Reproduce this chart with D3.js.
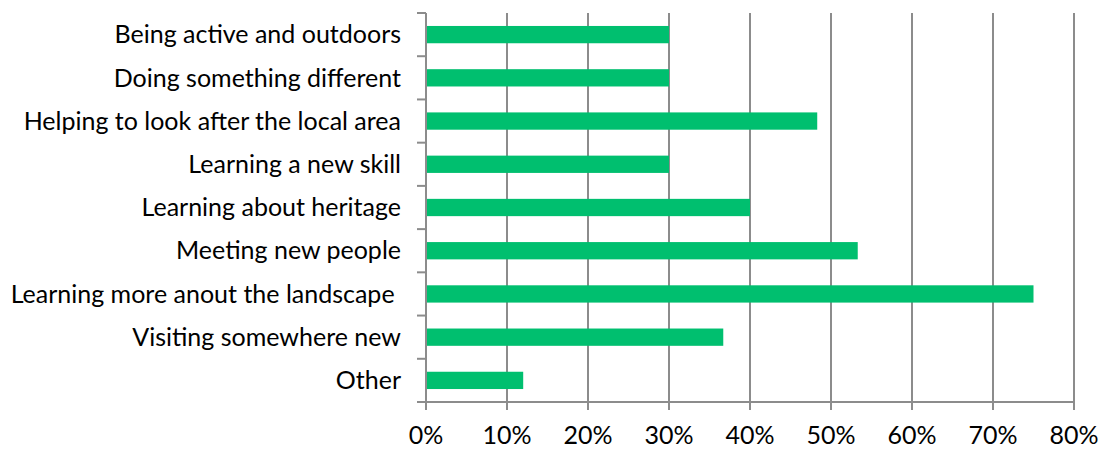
<!DOCTYPE html>
<html><head><meta charset="utf-8">
<script src="https://cdn.jsdelivr.net/npm/d3@7"></script>
<style>body{margin:0;background:#fff}svg{display:block}text{font-family:Lato,"Open Sans",sans-serif}</style>
</head><body><svg id="c" width="1103" height="451"></svg>
<script>
const categories = ["Being active and outdoors","Doing something different","Helping to look after the local area","Learning a new skill","Learning about heritage","Meeting new people","Learning more anout the landscape ","Visiting somewhere new","Other"];
const values = [0.30,0.30,0.483,0.30,0.40,0.533,0.75,0.367,0.12];
const xTicks = [0,0.1,0.2,0.3,0.4,0.5,0.6,0.7,0.8];

const svg = d3.select("#c");
const L=426, R=1074, T=13, B=402;
const x = d3.scaleLinear().domain([0,0.8]).range([L,R]);
const y = d3.scaleBand().domain(categories).range([T,B]).paddingInner(0.6).paddingOuter(0.3);
const grid="#8c8c8c";

svg.append("g").selectAll("line").data(xTicks.slice(1)).join("line")
  .attr("x1",d=>x(d)).attr("x2",d=>x(d)).attr("y1",T).attr("y2",B+8)
  .attr("stroke",grid).attr("stroke-width",2);
svg.append("line").attr("x1",L-9).attr("x2",R+1).attr("y1",B).attr("y2",B).attr("stroke",grid).attr("stroke-width",2);
svg.append("line").attr("x1",L).attr("x2",L).attr("y1",T).attr("y2",B+8).attr("stroke",grid).attr("stroke-width",2);
const bounds = d3.range(categories.length+1).map(i=>T+i*(B-T)/categories.length);
svg.append("g").selectAll("line").data(bounds).join("line")
  .attr("x1",L-9).attr("x2",L).attr("y1",d=>d).attr("y2",d=>d).attr("stroke",grid).attr("stroke-width",2);

svg.append("g").selectAll("rect").data(categories).join("rect")
  .attr("x",x(0)+1).attr("y",d=>y(d)).attr("height",y.bandwidth())
  .attr("width",(d,i)=>x(values[i])-x(0)-1).attr("fill","#00bf6f");

const fs=25;
svg.append("g").selectAll("text").data(categories).join("text")
  .attr("x",401).attr("y",d=>y(d)+y.bandwidth()/2).attr("dy","0.35em")
  .attr("text-anchor","end").attr("font-size",fs).attr("fill","#000")
  .style("white-space","pre").text(d=>d);

svg.append("g").selectAll("text").data(xTicks).join("text")
  .attr("x",d=>x(d)).attr("y",444).attr("text-anchor","middle")
  .attr("font-size",fs).attr("fill","#000").text(d=>d3.format(".0%")(d));
</script></body></html>
